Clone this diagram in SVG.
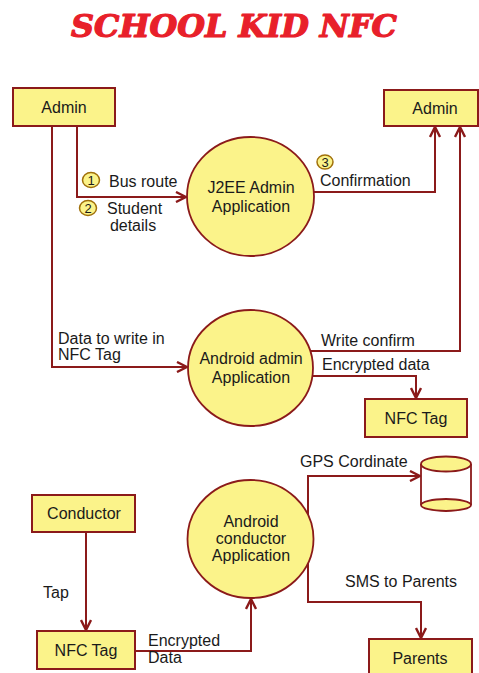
<svg xmlns="http://www.w3.org/2000/svg" width="479" height="673" viewBox="0 0 479 673">
<defs>
<style>
.box{fill:#fbf38a;stroke:#8b1a1a;stroke-width:2}
.proc{fill:#fbf38a;stroke:#8b1a1a;stroke-width:1.8}
.num{fill:#fbf38a;stroke:#a0700a;stroke-width:1.5}
.ln{fill:none;stroke:#8b1a1a;stroke-width:2}
.t{font-family:"Liberation Sans",Arial,sans-serif;font-size:16px;fill:#1a1a1a}
.n{font-family:"Liberation Sans",Arial,sans-serif;font-size:13px;fill:#1a1a1a;text-anchor:middle}
.c{text-anchor:middle}
.title{font-family:"DejaVu Serif","Liberation Serif",serif;font-weight:bold;font-style:italic;font-size:31px;fill:#e8202a;stroke:#e8202a;stroke-width:1.2;stroke-linejoin:round}
</style>
<marker id="arr" viewBox="0 0 12 12" refX="11" refY="6" markerWidth="12" markerHeight="12" markerUnits="userSpaceOnUse" orient="auto">
<path d="M1,1 L11,6 L1,11" fill="none" stroke="#8b1a1a" stroke-width="2.4"/>
</marker>
</defs>
<rect width="479" height="673" fill="#ffffff"/>
<text class="title" x="71" y="37" textLength="326" lengthAdjust="spacingAndGlyphs">SCHOOL KID NFC</text>

<g id="connectors">
<path class="ln" d="M77,126 V197 H186" marker-end="url(#arr)"/>
<path class="ln" d="M52,126 V367 H187" marker-end="url(#arr)"/>
<path class="ln" d="M314,192 H435 V127" marker-end="url(#arr)"/>
<path class="ln" d="M310,351 H460 V127" marker-end="url(#arr)"/>
<path class="ln" d="M312,376 H416 V398" marker-end="url(#arr)"/>
<path class="ln" d="M86,532 V630" marker-end="url(#arr)"/>
<path class="ln" d="M135,651 H251 V599" marker-end="url(#arr)"/>
<path class="ln" d="M308,515 V476 H420" marker-end="url(#arr)"/>
<path class="ln" d="M308,563 V602 H421 V638" marker-end="url(#arr)"/>
</g>

<g id="admin-left">
<rect class="box" x="13" y="88" width="102" height="38"/>
<text class="t c" x="64" y="113">Admin</text>
</g>
<g id="admin-right">
<rect class="box" x="384" y="90" width="94" height="36"/>
<text class="t c" x="435" y="114">Admin</text>
</g>
<g id="j2ee">
<ellipse class="proc" cx="250.5" cy="196.5" rx="63.5" ry="59.5"/>
<text class="t c" x="251" y="193">J2EE Admin</text>
<text class="t c" x="251" y="212">Application</text>
</g>
<g id="android-admin">
<ellipse class="proc" cx="250.5" cy="368" rx="62.5" ry="58"/>
<text class="t c" x="251" y="364">Android admin</text>
<text class="t c" x="251" y="383">Application</text>
</g>
<g id="nfc-tag-1">
<rect class="box" x="365" y="399" width="102" height="38"/>
<text class="t c" x="416" y="424">NFC Tag</text>
</g>
<g id="conductor">
<rect class="box" x="32" y="495" width="103" height="37"/>
<text class="t c" x="84" y="519">Conductor</text>
</g>
<g id="nfc-tag-2">
<rect class="box" x="37" y="631" width="98" height="38"/>
<text class="t c" x="86" y="656">NFC Tag</text>
</g>
<g id="android-conductor">
<ellipse class="proc" cx="250.5" cy="539" rx="63" ry="59"/>
<text class="t c" x="251" y="527">Android</text>
<text class="t c" x="251" y="544">conductor</text>
<text class="t c" x="251" y="561">Application</text>
</g>
<g id="datastore">
<rect x="421" y="464" width="50" height="41" fill="#ffffff"/>
<path class="ln" d="M421,464 V505 M471,464 V505" style="stroke-width:1.8"/>
<ellipse class="proc" cx="446" cy="505" rx="25" ry="6"/>
<ellipse class="proc" cx="446" cy="464" rx="25" ry="7.5"/>
</g>
<g id="parents">
<rect class="box" x="369" y="639" width="103" height="40"/>
<text class="t c" x="420" y="664">Parents</text>
</g>

<g id="labels">
<ellipse class="num" cx="91" cy="180" rx="8.5" ry="7.5"/>
<text class="n" x="91" y="185">1</text>
<text class="t" x="109" y="187">Bus route</text>
<ellipse class="num" cx="88" cy="208" rx="8.5" ry="7.5"/>
<text class="n" x="88" y="213">2</text>
<text class="t" x="107" y="214">Student</text>
<text class="t c" x="133" y="231">details</text>
<ellipse class="num" cx="325" cy="162" rx="8" ry="7"/>
<text class="n" x="325" y="167">3</text>
<text class="t" x="320" y="186">Confirmation</text>
<text class="t" x="58" y="344">Data to write in</text>
<text class="t" x="58" y="360">NFC Tag</text>
<text class="t" x="321" y="346">Write confirm</text>
<text class="t" x="322" y="370">Encrypted data</text>
<text class="t" x="300" y="467">GPS Cordinate</text>
<text class="t" x="43" y="598">Tap</text>
<text class="t" x="148" y="646">Encrypted</text>
<text class="t" x="148" y="663">Data</text>
<text class="t" x="345" y="587">SMS to Parents</text>
</g>
</svg>
